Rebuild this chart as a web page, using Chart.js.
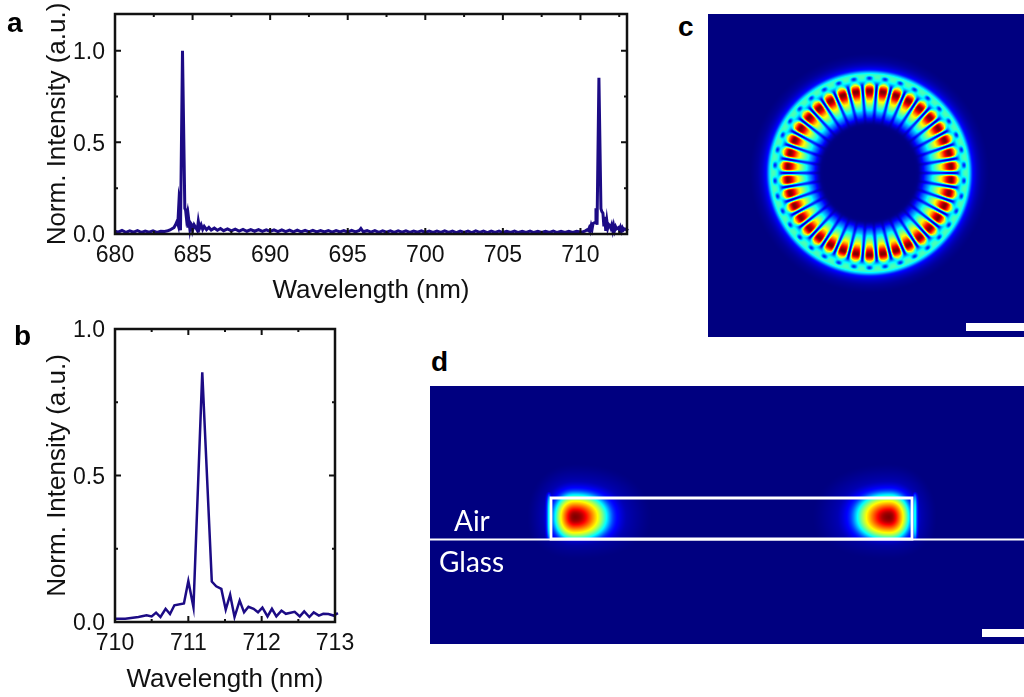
<!DOCTYPE html>
<html>
<head>
<meta charset="utf-8">
<title>Spectra and mode profiles</title>
<script src="https://cdn.jsdelivr.net/npm/chart.js@4"></script>
<style>
  html, body { margin:0; padding:0; background:#fff; }
  body { position:relative; width:1024px; height:697px; overflow:hidden; }
  canvas { position:absolute; display:block; }
  .tag { position:absolute; font:bold 28px "Liberation Sans", Arial, sans-serif; line-height:28px; color:#000; }
  .medium { position:absolute; font:28px Lato, "Open Sans", sans-serif; line-height:30px; color:#fff; }
</style>
</head>
<body>
<canvas id="chartA" width="660" height="310" style="left:0;top:0"></canvas>
<canvas id="chartB" width="370" height="387" style="left:0;top:310px"></canvas>
<canvas id="chartC" width="316" height="323" style="left:708px;top:14px"></canvas>
<canvas id="chartD" width="594" height="258" style="left:430px;top:386px"></canvas>
<div class="tag" style="left:7px;top:9px">a</div>
<div class="tag" style="left:14px;top:322px">b</div>
<div class="tag" style="left:678px;top:13px">c</div>
<div class="tag" style="left:431px;top:348px">d</div>
<div class="medium" style="left:454px;top:505px">Air</div>
<div class="medium" style="left:439px;top:546px">Glass</div>
<script>
// === DATA ===
// b: zoom on the right peak
const waveB = [710,710.14,710.32,710.43,710.5,710.56,710.62,710.69,710.75,710.81,710.94,711,711.07,711.19,711.32,711.38,711.45,711.51,711.57,711.63,711.7,711.76,711.82,711.89,711.95,712.01,712.08,712.14,712.2,712.27,712.33,712.45,712.52,712.58,712.65,712.71,712.78,712.84,712.91,712.98,713.04];
const intensityB = [0.011,0.011,0.017,0.023,0.019,0.032,0.017,0.045,0.027,0.057,0.063,0.14,0.05,0.852,0.138,0.122,0.113,0.042,0.093,0.017,0.073,0.033,0.052,0.045,0.033,0.049,0.019,0.045,0.019,0.039,0.028,0.035,0.019,0.036,0.017,0.033,0.022,0.028,0.027,0.022,0.03];

// a: everything below 710 nm, the rest of the trace is the same data as b
const waveLeft = [680,680.2,680.45,680.7,680.95,681.2,681.45,681.7,681.95,682.2,
  682.45,682.7,682.95,683.2,683.4,683.55,683.7,683.8,683.9,684,
  684.05,684.13,684.17,684.22,684.35,684.42,684.5,684.55,684.6,684.65,
  684.7,684.75,684.82,684.87,684.95,685,685.1,685.2,685.3,685.37,
  685.45,685.55,685.65,685.75,685.9,686.05,686.2,686.4,686.6,686.8,
  687,687.25,687.5,687.75,688,688.25,688.5,688.75,689,689.25,
  689.5,689.75,690,690.25,690.5,690.75,691,691.25,691.5,691.75,
  692,692.25,692.5,692.75,693,693.25,693.5,693.75,694,694.25,
  694.5,694.75,695,695.25,695.5,695.75,695.85,696,696.25,696.5,
  696.75,697,697.25,697.5,697.75,698,698.25,698.5,698.75,699,
  699.25,699.5,699.75,700,700.25,700.5,700.75,701,701.25,701.5,
  701.75,702,702.25,702.5,702.75,703,703.25,703.5,703.75,704,
  704.25,704.5,704.75,705,705.25,705.5,705.75,706,706.25,706.5,
  706.75,707,707.25,707.5,707.75,708,708.25,708.5,708.75,709,
  709.25,709.5,709.75];
const intensityLeft = [0.016,0.01,0.019,0.009,0.017,0.01,0.018,0.009,0.016,0.01,
  0.017,0.009,0.015,0.014,0.018,0.022,0.03,0.035,0.05,0.07,
  0.055,0.19,0.17,0.02,1,0.6,0.14,0.13,0.09,0.11,
  0.035,0.08,0.03,0.06,0.05,0.02,0.05,0.035,0.02,0.07,
  0.03,0.05,0.025,0.042,0.024,0.036,0.022,0.032,0.02,0.03,
  0.018,0.028,0.017,0.026,0.016,0.025,0.015,0.024,0.015,0.024,
  0.014,0.023,0.014,0.023,0.013,0.022,0.013,0.021,0.012,0.021,
  0.012,0.02,0.011,0.02,0.011,0.019,0.011,0.019,0.01,0.019,
  0.011,0.018,0.01,0.02,0.011,0.019,0.03,0.012,0.018,0.01,
  0.018,0.009,0.017,0.01,0.017,0.009,0.017,0.01,0.017,0.009,
  0.016,0.01,0.017,0.009,0.016,0.009,0.016,0.009,0.017,0.009,
  0.016,0.008,0.016,0.009,0.016,0.008,0.017,0.009,0.016,0.008,
  0.016,0.009,0.016,0.008,0.015,0.009,0.016,0.008,0.015,0.009,
  0.016,0.008,0.015,0.008,0.015,0.009,0.016,0.008,0.015,0.008,
  0.015,0.009,0.015];

const ticksXA = [680,685,690,695,700,705,710];
const minorXA = [682.5,687.5,692.5,697.5,702.5,707.5,712.5];
const ticksYA = [0,0.5,1];
const minorYA = [0.25,0.75];
const ticksXB = [710,711,712,713];
const minorXB = [710.5,711.5,712.5];
const ticksYB = [0,0.5,1];
const minorYB = [0.25,0.75];

// c: ring mode, levels read along a radius through a lobe and between two lobes
const ringLobes = 38;
const ringCentre = [161.5, 159];
const ringRadii   = [0,45,50,57,63,72,82,88,92,95,98,100,103,107,112,120,170];
const ringOnLobe  = [0,0,0.03,0.2,0.38,0.64,1,0.68,0.36,0.16,0.42,0.34,0.15,0.07,0.025,0,0];
const ringOffLobe = [0,0,0.02,0.1,0.16,0.14,0.06,0.14,0.36,0.44,0.43,0.34,0.15,0.07,0.025,0,0];
const barCX = [258,316];
const barCY = [313,313];

// d: cross section, two modes mirrored about the middle of the bar
const modeCentres = [145,459];
const modeY = 131;
const modeOffsets = [0,5,10,15,20,25,30,35,40,50,60,300];
const modeLevels  = [1,0.96,0.84,0.7,0.55,0.36,0.18,0.1,0.05,0.02,0,0];
const wallX = [119,485];
const barOutlineX = [121,121,482,482,121];
const barOutlineY = [153,112,112,153,153];
const glassX = [0,594];
const glassY = [153.5,153.5];
const barDX = [552,594];
const barDY = [247,247];

// === HELPERS ===
const FONT = '"Liberation Sans", Arial, sans-serif';
const INK = '#111';
const TRACE = '#1c0b85';

function jet(v){
  const c = (x)=>Math.round(255*Math.max(0,Math.min(1,x)));
  return [c(1.5-Math.abs(4*v-3)), c(1.5-Math.abs(4*v-2)), c(1.5-Math.abs(4*v-1))];
}

// Smooth reading between the levels of a profile
function readProfile(xs, ys, x){
  let i = 0;
  while (i < xs.length-2 && x > xs[i+1]) i++;
  const t = Math.max(0, Math.min(1, (x-xs[i])/(xs[i+1]-xs[i])));
  const y0 = ys[Math.max(i-1,0)], y1 = ys[i], y2 = ys[i+1], y3 = ys[Math.min(i+2,ys.length-1)];
  const v = 0.5*(2*y1+(y2-y0)*t+(2*y0-5*y1+4*y2-y3)*t*t+(3*y1-y0-3*y2+y3)*t*t*t);
  return Math.max(0, Math.min(1, v));
}

// Frame + inward ticks for the spectra
const framePlugin = {
  id:'frame',
  afterDatasetsDraw(chart, args, opts){
    const {ctx, chartArea:a, scales:{x,y}} = chart;
    ctx.save();
    ctx.strokeStyle = INK;
    ctx.lineWidth = 2.5;
    ctx.strokeRect(a.left, a.top, a.right-a.left, a.bottom-a.top);
    ctx.lineWidth = 2;
    const mark = (vals, len)=>{
      ctx.beginPath();
      vals.x.forEach(v=>{
        const p = x.getPixelForValue(v);
        ctx.moveTo(p,a.bottom); ctx.lineTo(p,a.bottom-len);
        ctx.moveTo(p,a.top); ctx.lineTo(p,a.top+len);
      });
      vals.y.forEach(v=>{
        const p = y.getPixelForValue(v);
        ctx.moveTo(a.left,p); ctx.lineTo(a.left+len,p);
        ctx.moveTo(a.right,p); ctx.lineTo(a.right-len,p);
      });
      ctx.stroke();
    };
    mark(opts.major, 6);
    mark(opts.minor, 3);
    ctx.restore();
  }
};

function spectrumChart(id, wave, intensity, o){
  return new Chart(document.getElementById(id), {
    type:'line',
    data:{ datasets:[{
      data: wave.map((w,i)=>({x:w, y:intensity[i]})),
      borderColor:TRACE, borderWidth:o.lineWidth, pointRadius:0, tension:0, clip:false, borderJoinStyle:'miter'
    }]},
    plugins:[framePlugin],
    options:{
      responsive:false, animation:false, devicePixelRatio:1,
      layout:{ padding:{ top:o.top, right:o.right, left:0, bottom:0 } },
      plugins:{
        legend:{display:false}, tooltip:{enabled:false},
        frame:{ major:{x:o.ticksX,y:o.ticksY}, minor:{x:o.minorX,y:o.minorY} }
      },
      scales:{
        x:{
          type:'linear', min:o.xMin, max:o.xMax,
          grid:{display:false}, border:{display:false},
          afterBuildTicks:(s)=>{ s.ticks = o.ticksX.map(v=>({value:v})); },
          afterFit:(s)=>{ s.height = o.axisH; s.paddingLeft = 0; s.paddingRight = 0; },
          ticks:{ color:INK, font:{family:FONT,size:23}, padding:0, maxRotation:0, autoSkip:false, callback:(v)=>String(v) },
          title:{ display:true, text:'Wavelength (nm)', color:INK, font:{family:FONT,size:26}, padding:{top:0,bottom:o.titleBottom} }
        },
        y:{
          min:0, max:o.yMax,
          grid:{display:false}, border:{display:false},
          afterBuildTicks:(s)=>{ s.ticks = o.ticksY.map(v=>({value:v})); },
          afterFit:(s)=>{ s.width = 115; s.paddingTop = 0; s.paddingBottom = 0; },
          ticks:{ color:INK, font:{family:FONT,size:23}, padding:2, labelOffset:2, autoSkip:false, callback:(v)=>v.toFixed(1) },
          title:{ display:true, text:'Norm. Intensity (a.u.)', color:INK, font:{family:FONT,size:26}, padding:{top:42,bottom:0} }
        }
      }
    }
  });
}

// Paints a field through the chart's own scales, value(x,y) gives 0..1
function fieldPlugin(value){
  return {
    id:'field',
    beforeDatasetsDraw(chart){
      const {ctx, chartArea:a, scales:{x,y}} = chart;
      const w = Math.round(a.right-a.left), h = Math.round(a.bottom-a.top);
      const img = ctx.createImageData(w,h);
      for (let j=0;j<h;j++){
        const vy = y.getValueForPixel(a.top+j+0.5);
        for (let i=0;i<w;i++){
          const rgb = jet(value(x.getValueForPixel(a.left+i+0.5), vy));
          const k = 4*(j*w+i);
          img.data[k]=rgb[0]; img.data[k+1]=rgb[1]; img.data[k+2]=rgb[2]; img.data[k+3]=255;
        }
      }
      ctx.putImageData(img, a.left, a.top);
    }
  };
}

function fieldChart(id, xMax, yMax, value, lines){
  return new Chart(document.getElementById(id), {
    type:'scatter',
    data:{ datasets: lines.map(l=>({
      data: l.x.map((v,i)=>({x:v, y:l.y[i]})),
      showLine:true, borderColor:'#fff', borderWidth:l.width, pointRadius:0, tension:0,
      borderCapStyle:l.cap||'butt', borderJoinStyle:'miter', clip:false
    }))},
    plugins:[fieldPlugin(value)],
    options:{
      responsive:false, animation:false, devicePixelRatio:1,
      layout:{padding:0},
      plugins:{legend:{display:false}, tooltip:{enabled:false}},
      scales:{
        x:{type:'linear', min:0, max:xMax, display:false},
        y:{type:'linear', min:0, max:yMax, reverse:true, display:false}
      }
    }
  });
}

// === CHARTS ===
spectrumChart('chartA', waveLeft.concat(waveB), intensityLeft.concat(intensityB), {
  xMin:680, xMax:713, yMax:1.2, top:14, right:33, axisH:76, titleBottom:4, lineWidth:3,
  ticksX:ticksXA, minorX:minorXA, ticksY:ticksYA, minorY:minorYA
});
spectrumChart('chartB', waveB, intensityB, {
  xMin:710, xMax:713, yMax:1, top:19, right:35, axisH:75, titleBottom:2, lineWidth:2.5,
  ticksX:ticksXB, minorX:minorXB, ticksY:ticksYB, minorY:minorYB
});

fieldChart('chartC', 316, 323, (x,y)=>{
  const dx = x-ringCentre[0], dy = y-ringCentre[1];
  const r = Math.hypot(dx,dy);
  if (r > 125) return 0;
  const phi = Math.atan2(dx,dy);
  const s = Math.pow(Math.sin(ringLobes/2*phi),2);
  // inner lobes are wide with thin gaps, the dots on the rim are small
  const wideLobe = 1-s*s*s;
  const smallDot = Math.pow(1-s,2);
  const t = Math.max(0, Math.min(1, (r-87)/5));
  const w = wideLobe*(1-t) + smallDot*t;
  const on = readProfile(ringRadii, ringOnLobe, r);
  const off = readProfile(ringRadii, ringOffLobe, r);
  return w*on + (1-w)*off;
}, [{x:barCX, y:barCY, width:8}]);

fieldChart('chartD', 594, 258, (x,y)=>{
  let v = 0;
  modeCentres.forEach((cx,m)=>{
    const outward = m===0 ? cx-x : x-cx;
    const sx = outward > 0 ? 1.25 : 0.78;
    const below = y > glassY[0];
    const dy = (y-modeY)*(below ? 1.4 : 1.12);
    const dx = (x-cx)*sx;
    const d = Math.pow(Math.pow(Math.abs(dx),2.2)+Math.pow(Math.abs(dy),2.2),1/2.2);
    let level = readProfile(modeOffsets, modeLevels, d);
    if (below) level *= 0.6;
    // outside the wall the field jumps and leaves a thin streak
    const wd = Math.abs(x-wallX[m]);
    if (y < glassY[0] && wd < 7 && outward > 0) level = Math.max(level, level*0.3+0.4*Math.pow(1-wd/7,2.5)*Math.max(0,1-Math.pow((y-modeY)/26,4)));
    v = Math.max(v, level);
  });
  return v;
}, [
  {x:glassX, y:glassY, width:2},
  {x:barOutlineX, y:barOutlineY, width:2.8, cap:'square'},
  {x:barDX, y:barDY, width:8}
]);
</script>
</body>
</html>
